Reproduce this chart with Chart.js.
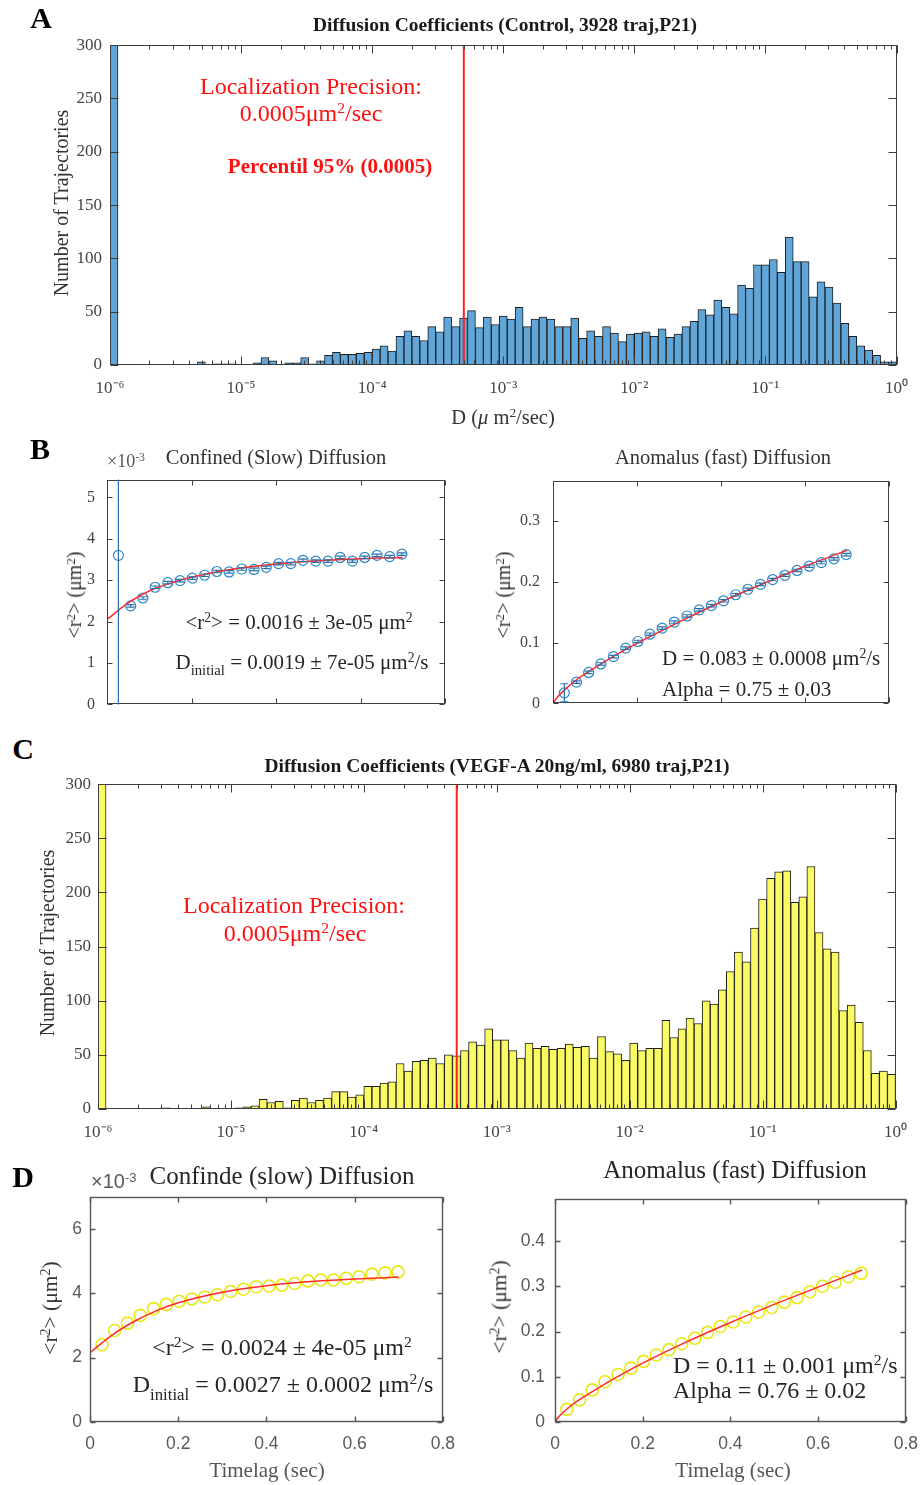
<!DOCTYPE html>
<html><head><meta charset="utf-8">
<script src="https://cdn.jsdelivr.net/npm/chart.js@4.4.1/dist/chart.umd.min.js"></script>
<style>
body{margin:0;background:#fff;}
#page{position:relative;width:924px;height:1485px;overflow:hidden;background:#fff;font-family:"Liberation Serif","Times New Roman",serif;}
.t{position:absolute;white-space:nowrap;line-height:1;transform:translate(-50%,-50%);z-index:5;}
.l{position:absolute;white-space:nowrap;line-height:1;transform:translate(0,-50%);z-index:5;}
.v{position:absolute;white-space:nowrap;line-height:1;transform:translate(-50%,-50%) rotate(-90deg);z-index:5;}
.t sup,.l sup,.v sup{font-size:65%;vertical-align:0.5em;line-height:0;}
.t sub,.l sub{font-size:70%;vertical-align:-0.45em;line-height:0;}
canvas{position:absolute;}
.red{color:#ff1010;}
.bold{font-weight:bold;}
.sans{font-family:"Liberation Sans",Arial,sans-serif;}
</style>
</head><body>
<div id="page">
  <div class="t bold" style="left:41px;top:18px;font-size:30px;">A</div>
  <div class="t bold" style="left:505px;top:25px;font-size:19.5px;color:#1a1a1a;">Diffusion Coefficients (Control, 3928 traj,P21)</div>
  <div class="v" style="left:61px;top:203px;font-size:20px;color:#333;">Number of Trajectories</div>
  <div class="t" style="left:503px;top:417px;font-size:20.5px;color:#333;">D (<i>μ</i> m<sup>2</sup>/sec)</div>
  <div class="t red" style="left:311px;top:86px;font-size:24px;">Localization Precision:</div>
  <div class="t red" style="left:311px;top:113px;font-size:24px;">0.0005μm<sup>2</sup>/sec</div>
  <div class="t red bold" style="left:330px;top:166px;font-size:21px;">Percentil 95% (0.0005)</div>

  <div class="t bold" style="left:40px;top:449px;font-size:30px;">B</div>
  <div class="t" style="left:276px;top:457px;font-size:20.5px;color:#333;">Confined (Slow) Diffusion</div>
  <div class="l" style="left:107px;top:461px;font-size:18px;color:#555;">×10<sup>-3</sup></div>
  <div class="v" style="left:74px;top:595px;font-size:20px;color:#333;">&lt;r<sup>2</sup>&gt; (μm<sup>2</sup>)</div>
  <div class="t" style="left:299px;top:622px;font-size:21px;color:#262626;">&lt;r<sup>2</sup>&gt; = 0.0016 ± 3e-05 μm<sup>2</sup></div>
  <div class="t" style="left:302px;top:662px;font-size:21px;color:#262626;">D<sub>initial</sub> = 0.0019 ± 7e-05 μm<sup>2</sup>/s</div>
  <div class="t" style="left:723px;top:457px;font-size:20.5px;color:#333;">Anomalus (fast) Diffusion</div>
  <div class="v" style="left:503px;top:595px;font-size:20px;color:#333;">&lt;r<sup>2</sup>&gt; (μm<sup>2</sup>)</div>
  <div class="l" style="left:662px;top:658px;font-size:21px;color:#262626;">D = 0.083 ± 0.0008 μm<sup>2</sup>/s</div>
  <div class="l" style="left:662px;top:689px;font-size:21px;color:#262626;">Alpha = 0.75 ± 0.03</div>

  <div class="t bold" style="left:23px;top:749px;font-size:30px;">C</div>
  <div class="t bold" style="left:497px;top:766px;font-size:19.5px;color:#1a1a1a;">Diffusion Coefficients (VEGF-A 20ng/ml, 6980 traj,P21)</div>
  <div class="v" style="left:47px;top:943px;font-size:20px;color:#333;">Number of Trajectories</div>
  <div class="t red" style="left:294px;top:905px;font-size:24px;">Localization Precision:</div>
  <div class="t red" style="left:295px;top:933px;font-size:24px;">0.0005μm<sup>2</sup>/sec</div>

  <div class="t bold" style="left:23px;top:1177px;font-size:30px;">D</div>
  <div class="t" style="left:282px;top:1175px;font-size:25px;color:#262626;">Confinde (slow) Diffusion</div>
  <div class="l sans" style="left:91px;top:1181px;font-size:20px;color:#595959;">×10<sup>-3</sup></div>
  <div class="v" style="left:51px;top:1308px;font-size:21.5px;color:#333;">&lt;r<sup>2</sup>&gt; (μm<sup>2</sup>)</div>
  <div class="t" style="left:267px;top:1470px;font-size:21px;color:#555;">Timelag (sec)</div>
  <div class="t" style="left:282px;top:1347px;font-size:24px;color:#262626;">&lt;r<sup>2</sup>&gt; = 0.0024 ± 4e-05 μm<sup>2</sup></div>
  <div class="t" style="left:283px;top:1384px;font-size:24px;color:#262626;">D<sub>initial</sub> = 0.0027 ± 0.0002 μm<sup>2</sup>/s</div>
  <div class="t" style="left:735px;top:1169px;font-size:25px;color:#262626;">Anomalus (fast) Diffusion</div>
  <div class="v" style="left:500px;top:1307px;font-size:21.5px;color:#333;">&lt;r<sup>2</sup>&gt; (μm<sup>2</sup>)</div>
  <div class="t" style="left:733px;top:1470px;font-size:21px;color:#555;">Timelag (sec)</div>
  <div class="l" style="left:673px;top:1365px;font-size:24px;color:#262626;">D = 0.11 ± 0.001 μm<sup>2</sup>/s</div>
  <div class="l" style="left:673px;top:1390px;font-size:24px;color:#262626;">Alpha = 0.76 ± 0.02</div>
</div>
<script>
// ---------------- DATA ----------------
// Histogram counts, 99 log-spaced bins between 1e-6 and 1e0 (um^2/s)
const controlCounts = [300,0,0,0,0,0,0,0,0,0,0,
  3,0,1,1,1,0,0,2,7,
  4,0,2,2,7,1,4,9,12,10,
  10,11,12,15,18,13,27,32,27,23,
  36,31,45,36,44,51,35,45,38,46,
  43,54,36,43,45,43,36,36,44,25,
  32,27,36,30,22,29,30,31,27,34,
  26,29,36,41,52,47,61,54,48,75,
  72,94,94,99,87,120,97,97,64,78,
  73,58,39,27,18,14,9,3,3];
const vegfCounts = [300,0,0,0,0,0,0,0,1,0,
  0,0,0,2,0,0,0,1,2,3,
  9,6,7,1,8,10,6,8,10,16,
  16,11,13,21,21,24,25,42,35,44,
  45,47,42,50,49,54,62,59,74,64,
  64,54,47,61,56,58,55,56,60,57,
  58,47,67,53,51,45,61,54,56,56,
  82,66,74,84,79,100,97,110,127,145,
  136,167,194,213,219,220,191,196,224,163,
  148,145,91,96,80,54,33,35,32];
const decadeTicks = [1e-6,1e-5,1e-4,1e-3,1e-2,1e-1,1];
const decadeLabels = ['10\u207B\u2076','10\u207B\u2075','10\u207B\u2074','10\u207B\u00B3','10\u207B\u00B2','10\u207B\u00B9','10\u2070'];
const localizationPrecision = 0.0005;

// MSD curves, time lags in seconds
const timelags = [0.027,0.056,0.085,0.114,0.144,0.173,0.202,0.231,0.260,0.289,0.319,0.348,0.377,0.406,0.435,0.464,0.494,0.523,0.552,0.581,0.610,0.639,0.669,0.698];
// Control, confined (x1e-3 um^2)
const slowMsdControl = [3.60,2.38,2.57,2.83,2.94,2.99,3.05,3.12,3.21,3.20,3.27,3.26,3.31,3.40,3.40,3.48,3.46,3.46,3.55,3.46,3.55,3.60,3.57,3.63];
const slowErrControl = [40,0.03,0.03,0.03,0.03,0.03,0.03,0.03,0.03,0.03,0.03,0.03,0.03,0.03,0.03,0.03,0.03,0.03,0.03,0.03,0.03,0.03,0.03,0.03];
const slowFitControlT = [0,0.05,0.1,0.15,0.2,0.25,0.3,0.4,0.5,0.6,0.7];
const slowFitControlY = [2.05,2.45,2.74,2.93,3.07,3.18,3.27,3.39,3.47,3.52,3.55];
// Control, anomalous (um^2)
const fastMsdControl = [0.0174,0.035,0.051,0.065,0.077,0.091,0.102,0.114,0.124,0.134,0.144,0.154,0.161,0.169,0.179,0.188,0.196,0.204,0.211,0.219,0.226,0.232,0.238,0.245];
const fastErrControl = [0.015,0.002,0.002,0.002,0.002,0.002,0.002,0.002,0.002,0.002,0.002,0.002,0.002,0.002,0.002,0.002,0.002,0.002,0.002,0.002,0.002,0.002,0.002,0.002];
const fastFitControlT = [0,0.01,0.03,0.06,0.1,0.15,0.2,0.3,0.4,0.5,0.6,0.7];
const fastFitControlY = [0,0.010,0.024,0.041,0.059,0.080,0.099,0.134,0.167,0.197,0.226,0.252];
// VEGF-A, confined (x1e-3 um^2)
const slowMsdVegf = [2.40,2.84,3.07,3.31,3.52,3.65,3.75,3.82,3.88,3.95,4.05,4.12,4.20,4.22,4.25,4.30,4.38,4.41,4.41,4.46,4.51,4.59,4.63,4.66];
const slowFitVegfT = [0,0.05,0.1,0.15,0.2,0.3,0.4,0.5,0.6,0.7];
const slowFitVegfY = [2.15,2.70,3.12,3.45,3.70,4.03,4.23,4.36,4.44,4.50];
// VEGF-A, anomalous (um^2)
const fastMsdVegf = [0.028,0.049,0.071,0.089,0.105,0.119,0.134,0.148,0.160,0.173,0.185,0.198,0.211,0.221,0.232,0.243,0.253,0.265,0.275,0.288,0.300,0.309,0.321,0.329];
const fastFitVegfT = [0,0.01,0.03,0.06,0.1,0.15,0.2,0.3,0.4,0.5,0.6,0.7];
const fastFitVegfY = [0,0.013,0.031,0.052,0.076,0.104,0.130,0.177,0.220,0.260,0.298,0.336];

const timeTicks = [0,0.2,0.4,0.6,0.8];

// ---------------- HELPERS ----------------
const page = document.getElementById('page');
const SERIF = '"Liberation Serif","Times New Roman",serif';
const SANS = '"Liberation Sans",Arial,sans-serif';

function binCenters(n, lo, hi){
  const w = (hi - lo) / n;
  return Array.from({length:n}, (_, k) => Math.pow(10, lo + w * (k + 0.5)));
}
function logMinorTicks(){
  const out = [];
  for (let e = -6; e < 0; e++) for (let m = 2; m <= 9; m++) out.push(m * Math.pow(10, e));
  return out;
}

const matlabBox = {
  id: 'matlabBox',
  afterDatasetsDraw(chart, args, o) {
    const {ctx, chartArea: a, scales} = chart;
    const xs = scales.x, ys = scales.y;
    ctx.save();
    ctx.strokeStyle = o.color || '#404040';
    ctx.lineWidth = o.lineWidth || 1;
    ctx.beginPath();
    const L = Math.round(a.left) + 0.5, R = Math.round(a.right) - 0.5;
    const T = Math.round(a.top) + 0.5, B = Math.round(a.bottom) - 0.5;
    const vx = (v, len) => { const p = Math.round(xs.getPixelForValue(v)) + 0.5;
      if (p < a.left - 1 || p > a.right + 1) return;
      ctx.moveTo(p, B); ctx.lineTo(p, B - len); ctx.moveTo(p, T); ctx.lineTo(p, T + len); };
    const vy = (v, len) => { const p = Math.round(ys.getPixelForValue(v)) + 0.5;
      if (p < a.top - 1 || p > a.bottom + 1) return;
      ctx.moveTo(L, p); ctx.lineTo(L + len, p); ctx.moveTo(R, p); ctx.lineTo(R - len, p); };
    (o.xMajor || []).forEach(v => vx(v, o.major));
    (o.xMinor || []).forEach(v => vx(v, o.minor));
    (o.yMajor || []).forEach(v => vy(v, o.major));
    ctx.stroke();
    ctx.strokeRect(L, T, R - L, B - T);
    ctx.restore();
  }
};

const errorBars = {
  id: 'errorBars',
  afterDatasetsDraw(chart) {
    const {ctx, chartArea: a, scales} = chart;
    chart.data.datasets.forEach(ds => {
      if (!ds.errors) return;
      ctx.save();
      ctx.beginPath(); ctx.rect(a.left, a.top, a.right - a.left, a.bottom - a.top); ctx.clip();
      ctx.strokeStyle = ds.errorColor; ctx.lineWidth = 1.2;
      ctx.beginPath();
      ds.data.forEach((pt, j) => {
        const e = ds.errors[j];
        const x = scales.x.getPixelForValue(pt.x);
        const y1 = scales.y.getPixelForValue(pt.y - e), y2 = scales.y.getPixelForValue(pt.y + e);
        ctx.moveTo(x, y1); ctx.lineTo(x, y2);
        ctx.moveTo(x - 4, y1); ctx.lineTo(x + 4, y1);
        ctx.moveTo(x - 4, y2); ctx.lineTo(x + 4, y2);
      });
      ctx.stroke();
      ctx.restore();
    });
  }
};

function mountCanvas(rect, yW, xH, pad) {
  const cv = document.createElement('canvas');
  const W = (rect.R - rect.L) + yW + pad.left + pad.right;
  const H = (rect.B - rect.T) + xH + pad.top + pad.bottom;
  cv.width = W; cv.height = H;
  cv.style.left = (rect.L - yW - pad.left) + 'px';
  cv.style.top = (rect.T - pad.top) + 'px';
  cv.style.width = W + 'px'; cv.style.height = H + 'px';
  page.appendChild(cv);
  return cv;
}

function histogram(rect, counts, fill, yTickPad) {
  const yW = 60, xH = 40, pad = {left:0, top:14, right:24, bottom:0};
  const cv = mountCanvas(rect, yW, xH, pad);
  const centers = binCenters(counts.length, -6, 0);
  const yTicks = [0,50,100,150,200,250,300];
  return new Chart(cv, {
    type: 'bar',
    data: { datasets: [
      { type:'line', label:'Localization precision', order:0,
        data:[{x:localizationPrecision, y:0},{x:localizationPrecision, y:300}],
        borderColor:'#ff2020', borderWidth:2, pointRadius:0 },
      { type:'bar', label:'Number of Trajectories', order:1,
        data: centers.map((c, i) => ({x:c, y:counts[i]})),
        backgroundColor: fill, borderColor:'#1e1e1e', borderWidth:1,
        barPercentage:1, categoryPercentage:1 }
    ]},
    options: {
      responsive:false, animation:false, devicePixelRatio:1,
      layout:{padding:pad},
      plugins:{ legend:{display:false}, tooltip:{enabled:false},
        matlabBox:{ xMajor:decadeTicks, xMinor:logMinorTicks(), yMajor:yTicks, major:8, minor:4, color:'#3c3c3c' } },
      scales:{
        x:{ type:'logarithmic', min:1e-6, max:1, offset:false,
          grid:{display:false, drawTicks:false, offset:false}, border:{display:false},
          afterBuildTicks: s => { s.ticks = decadeTicks.map(v => ({value:v})); },
          afterFit: s => { s.height = xH; },
          ticks:{ callback:(v, i) => decadeLabels[i], autoSkip:false, maxRotation:0,
            font:{family:SERIF, size:17}, color:'#444', padding:13 } },
        y:{ type:'linear', min:0, max:300,
          grid:{display:false, drawTicks:false}, border:{display:false},
          afterFit: s => { s.width = yW; },
          ticks:{ stepSize:50, includeBounds:false, font:{family:SERIF, size:17}, color:'#444', padding:yTickPad } }
      }
    },
    plugins:[matlabBox]
  });
}

function msdChart(rect, cfg) {
  const yW = 60, xH = cfg.showX ? 40 : 8, pad = {left:0, top:14, right:24, bottom:0};
  const cv = mountCanvas(rect, yW, xH, pad);
  const datasets = [
    { label:'fit', order:0, data: cfg.fitT.map((t, i) => ({x:t, y:cfg.fitY[i]})),
      showLine:true, borderColor:'#ff2a2a', borderWidth:1.5, pointRadius:0,
      cubicInterpolationMode:'monotone' },
    { label:'MSD', order:1, data: timelags.map((t, i) => ({x:t, y:cfg.y[i]})),
      errors: cfg.err, errorColor: cfg.errColor,
      showLine:false, pointStyle:'circle', pointRadius:cfg.r,
      pointBackgroundColor:'rgba(0,0,0,0)', pointBorderColor:cfg.color, pointBorderWidth:cfg.bw }
  ];
  const font = cfg.showX ? {family:SANS, size:17.5} : {family:SERIF, size:16};
  return new Chart(cv, {
    type:'scatter',
    data:{datasets},
    options:{
      responsive:false, animation:false, devicePixelRatio:1,
      layout:{padding:pad},
      plugins:{ legend:{display:false}, tooltip:{enabled:false},
        matlabBox:{ xMajor:timeTicks, yMajor:cfg.yTicks, major:5, minor:0, color:cfg.boxColor, lineWidth:cfg.boxW } },
      scales:{
        x:{ type:'linear', min:0, max:0.8,
          grid:{display:false, drawTicks:false}, border:{display:false},
          afterBuildTicks: s => { s.ticks = timeTicks.map(v => ({value:v})); },
          afterFit: s => { s.height = xH; },
          ticks:{ display: !!cfg.showX, callback: v => String(v), maxRotation:0, autoSkip:false,
            font:font, color:'#595959', padding:12 } },
        y:{ type:'linear', min:0, max:cfg.yMax,
          grid:{display:false, drawTicks:false}, border:{display:false},
          afterBuildTicks: s => { s.ticks = cfg.yTicks.map(v => ({value:v})); },
          afterFit: s => { s.width = yW; },
          ticks:{ callback: v => String(Math.round(v * 1000) / 1000), font:font,
            color: cfg.showX ? '#595959' : '#444', padding:cfg.yPad } }
      }
    },
    plugins:[matlabBox, errorBars]
  });
}

// ---------------- CHARTS ----------------
histogram({L:110, T:41, R:897, B:365}, controlCounts, 'rgb(96,166,216)', 8);
histogram({L:98, T:781, R:896, B:1109}, vegfCounts, 'rgb(250,250,100)', 7);

msdChart({L:107, T:472, R:445, B:718}, {
  y:slowMsdControl, err:slowErrControl, fitT:slowFitControlT, fitY:slowFitControlY,
  color:'#2a86c8', errColor:'#2a6faa', r:5, bw:1.2, yMax:5.43, yTicks:[0,1,2,3,4,5],
  yPad:12, boxColor:'#404040', boxW:1 });
msdChart({L:553, T:472, R:889, B:718}, {
  y:fastMsdControl, err:fastErrControl, fitT:fastFitControlT, fitY:fastFitControlY,
  color:'#2a86c8', errColor:'#2a6faa', r:5, bw:1.2, yMax:0.367, yTicks:[0,0.1,0.2,0.3],
  yPad:13, boxColor:'#404040', boxW:1 });
msdChart({L:90, T:1192, R:443, B:1422}, {
  y:slowMsdVegf, fitT:slowFitVegfT, fitY:slowFitVegfY, showX:true,
  color:'rgb(232,232,20)', r:6, bw:1.6, yMax:7, yTicks:[0,2,4,6],
  yPad:8, boxColor:'#555', boxW:1.4 });
msdChart({L:555, T:1192, R:906, B:1422}, {
  y:fastMsdVegf, fitT:fastFitVegfT, fitY:fastFitVegfY, showX:true,
  color:'rgb(232,232,20)', r:6, bw:1.6, yMax:0.494, yTicks:[0,0.1,0.2,0.3,0.4],
  yPad:10, boxColor:'#555', boxW:1.4 });
</script>
</body></html>
